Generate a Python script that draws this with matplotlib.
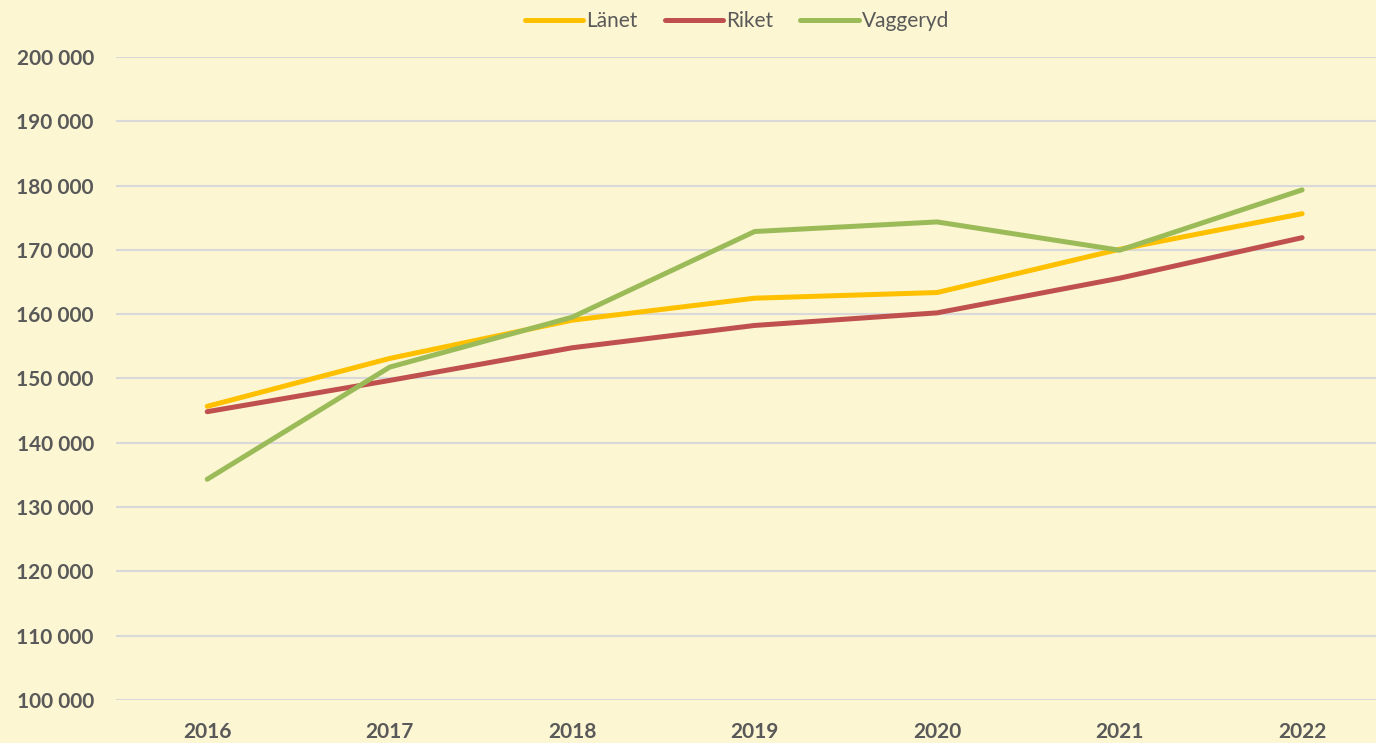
import matplotlib.pyplot as plt
from matplotlib.ticker import FuncFormatter

years = ["2016", "2017", "2018", "2019", "2020", "2021", "2022"]
lanet = [145670, 153120, 159070, 162490, 163370, 170100, 175630]
riket = [144840, 149700, 154780, 158250, 160210, 165600, 171900]
vaggeryd = [134330, 151770, 159530, 172860, 174350, 169950, 179330]

bg = "#FCF6D2"
grey = "#595959"

fig = plt.figure(figsize=(13.76, 7.43), dpi=100, facecolor=bg)
ax = fig.add_axes([116 / 1376, 1 - 700 / 743, 1 - 116 / 1376, 643 / 743])
ax.set_facecolor(bg)

x = range(len(years))
series = [
    ("Länet", lanet, "#FFC000"),
    ("Riket", riket, "#C0504D"),
    ("Vaggeryd", vaggeryd, "#9BBB59"),
]
for name, values, color in series:
    ax.plot(x, values, color=color, lw=3.6, label=name,
            solid_capstyle="round", solid_joinstyle="round", zorder=3)

ax.set_xlim(-0.5, 6.405)
ax.set_ylim(100000, 200000)
ax.set_yticks(range(100000, 200001, 10000))
ax.yaxis.set_major_formatter(FuncFormatter(lambda v, p: f"{int(v):,}".replace(",", " ")))
ax.set_xticks(list(x))
ax.set_xticklabels(years)

ax.grid(axis="y", color="#D9D9D9", lw=1.5, zorder=0)
for s in ax.spines.values():
    s.set_visible(False)
ax.tick_params(length=0, colors=grey)
ax.tick_params(axis="y", pad=16)
ax.tick_params(axis="x", pad=16)
for lab in ax.get_xticklabels() + ax.get_yticklabels():
    lab.set_family("Lato")
    lab.set_fontweight("bold")
    lab.set_fontsize(15)
    lab.set_color(grey)

leg = fig.legend(loc="center", bbox_to_anchor=(737 / 1376, 1 - 21 / 743), ncol=3,
                 frameon=False, handlelength=2.8, handletextpad=0.15,
                 columnspacing=1.3, prop={"family": "Lato", "size": 15})
for t in leg.get_texts():
    t.set_color(grey)

fig.savefig("out.png", dpi=100, facecolor=bg)
